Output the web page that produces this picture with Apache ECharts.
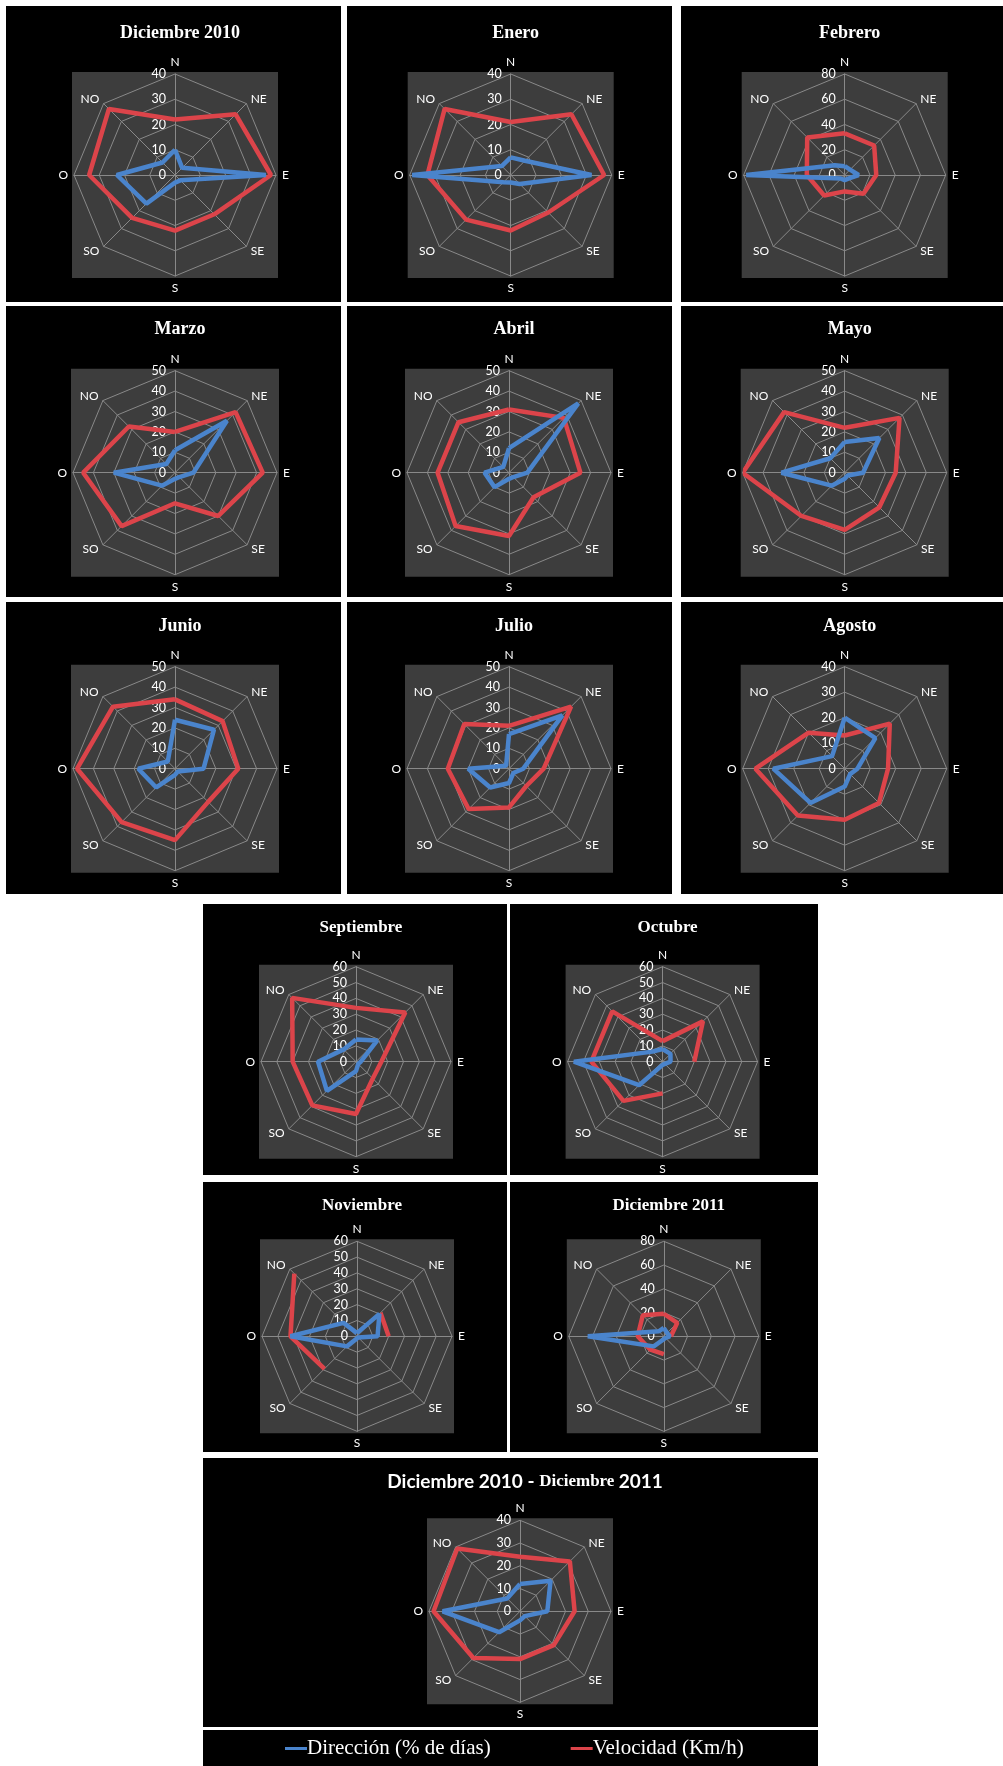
<!DOCTYPE html>
<html><head><meta charset="utf-8">
<script src="https://cdn.jsdelivr.net/npm/echarts@6/dist/echarts.min.js"></script>
<style>
html,body{margin:0;padding:0;background:#fff;width:1003px;height:1766px;overflow:hidden;}
.p{position:absolute;background:#000;}
</style></head><body>
<script>
// ---------- DATA ----------
const directions = ['N','NE','E','SE','S','SO','O','NO'];
const directionBearings = [0, 45, 90, 135, 180, 225, 270, 315]; // compass bearing of each direction (degrees)
const panelTitles = ['Diciembre 2010','Enero','Febrero','Marzo','Abril','Mayo','Junio','Julio','Agosto',
  'Septiembre','Octubre','Noviembre','Diciembre 2011','Diciembre 2010 - Diciembre 2011'];
const seriesNames = ['Dirección (% de días)','Velocidad (Km/h)'];
const axisMaxima = [40,40,80,50,50,50,50,50,40,60,60,60,80,40];
const axisSteps  = [10,10,20,10,10,10,10,10,10,10,10,10,20,10];

const dirDic2010 = [10, 4, 36, 3, 3, 16, 23, 7];
const velDic2010 = [22, 34, 38, 22, 22, 24, 34, 37];
const dirEne = [7, 8, 32, 5, 3, 4, 39, 5];
const velEne = [21, 34, 37, 21, 22, 25, 33, 37];
const dirFeb = [7, 6, 11, 4, 4, 4, 78, 11];
const velFeb = [33, 33, 25, 21, 13, 23, 30, 42];
const dirMar = [11, 36, 9, 3, 3, 9, 30, 6];
const velMar = [20, 42, 43, 30, 15, 37, 45, 32];
const dirAbr = [12, 48, 9, 3, 3, 10, 12, 4];
const velAbr = [31, 38, 35, 17, 31, 37, 35, 35];
const dirMay = [15, 24, 9, 2, 3, 9, 31, 10];
const velMay = [22, 38, 25, 24, 28, 30, 50, 42];
const dirJun = [24, 27, 14, 2, 3, 13, 18, 5];
const velJun = [34, 33, 31, 23, 35, 37, 48, 43];
const dirJul = [17, 37, 7, 3, 7, 13, 20, 2];
const velJul = [21, 43, 17, 12, 19, 28, 30, 31];
const dirAgo = [20, 17, 5, 3, 7, 19, 28, 7];
const velAgo = [13, 25, 17, 19, 20, 26, 35, 20];
const dirSep = [14, 19, 3, 2, 6, 26, 24, 11];
const velSep = [34, 44, 16, 15, 33, 39, 40, 57];
const dirOct = [8, 7, 5, 2, 2, 21, 56, 9];
const velOct = [13, 36, 20, null, 20, 35, 45, 45];
const dirNov = [2, 20, 13, 1, 1, 9, 42, 12];
const velNov = [null, 21, 20, null, null, 29, 42, 56];
const dirDic2011 = [7, 4, 5, 2, 3, 12, 64, 6];
const velDic2011 = [19, 16, 6, null, 15, 16, 22, 25];
const dirTotal = [12, 19, 12, 3, 4, 13, 34, 8];
const velTotal = [24, 31, 24, 21, 21, 29, 38, 39];

const dirSeries = [dirDic2010, dirEne, dirFeb, dirMar, dirAbr, dirMay, dirJun, dirJul, dirAgo, dirSep, dirOct, dirNov, dirDic2011, dirTotal];
const velSeries = [velDic2010, velEne, velFeb, velMar, velAbr, velMay, velJun, velJul, velAgo, velSep, velOct, velNov, velDic2011, velTotal];

// ---------- LAYOUT ----------
const layout = [
  {box:[6,6,341,302],    c:[175,175],    r:101, ty:28.5},
  {box:[347,6,672,302],  c:[510.7,175],  r:101, ty:28.5},
  {box:[681,6,1003,302], c:[844.7,175],  r:101, ty:28.5},
  {box:[6,306,341,597],  c:[175,472.7],  r:102, ty:324.5},
  {box:[347,306,672,597],c:[509,472.7],  r:102, ty:324.5},
  {box:[681,306,1003,597],c:[844.7,472.7],r:102, ty:324.5},
  {box:[6,602,341,894],  c:[175,768.7],  r:102, ty:621},
  {box:[347,602,672,894],c:[509,768.7],  r:102, ty:621},
  {box:[681,602,1003,894],c:[844.7,768.7],r:102, ty:621},
  {box:[203,904,507,1175],c:[356,1061.7], r:95, ty:923},
  {box:[510,904,818,1175],c:[662.6,1061.7],r:95, ty:923},
  {box:[203,1182,507,1452],c:[357,1336.3],r:95, ty:1200.7},
  {box:[510,1182,818,1452],c:[663.8,1336.3],r:95, ty:1200.7},
  {box:[203,1458,818,1727],c:[520,1611.3], r:91, ty:1477}
];

const RED = '#dc444a', BLUE = '#4a84cc', GRID = '#898989', PLOT = '#3d3d3d';
const ccw = [0,7,6,5,4,3,2,1];

// closed ring of [value, bearing] pairs; nulls leave gaps
function loop(vals){
  const pts = vals.map((v,i)=>[v==null?'-':v, directionBearings[i]]);
  pts.push([vals[0]==null?'-':vals[0], 360]);
  return pts;
}

layout.forEach((L, k) => {
  const [x0,y0,x1,y1] = L.box;
  const w = x1-x0, h = y1-y0;
  const div = document.createElement('div');
  div.className = 'p';
  div.style.cssText = `left:${x0}px;top:${y0}px;width:${w}px;height:${h}px;`;
  document.body.appendChild(div);
  const chart = echarts.init(div, null, {renderer:'canvas'});
  const cx = L.c[0]-x0, cy = L.c[1]-y0, R = L.r, half = R + 2;
  const max = axisMaxima[k], step = axisSteps[k];
  const titleText = k === 13
    ? '{a|Diciembre 2010 - }{b|Diciembre }{a|2011}'
    : panelTitles[k];
  chart.setOption({
    animation:false,
    backgroundColor:'#000',
    title:{
      text:titleText, left:cx, top:L.ty-y0, textAlign:'center', textVerticalAlign:'middle',
      textStyle:{color:'#fff', fontFamily:'Liberation Serif', fontWeight:'bold', fontSize: k>=9 ? 17 : 18,
        rich:{a:{color:'#fff',fontFamily:'Lato',fontWeight:'bold',fontSize:19},
              b:{color:'#fff',fontFamily:'Liberation Serif',fontWeight:'bold',fontSize:17}}}
    },
    graphic:[{type:'rect', z:-10, silent:true,
      shape:{x:cx-half, y:cy-half, width:2*half, height:2*half}, style:{fill:PLOT}}],
    radar:{
      center:[cx,cy], radius:R, startAngle:90, shape:'polygon', splitNumber:max/step,
      indicator: ccw.map(i => i===0
        ? {name:directions[i], min:0, max:max, axisLabel:{show:true, color:'#fff', fontSize:12.5, fontFamily:'Lato', margin:9}}
        : {name:directions[i], min:0, max:max}),
      axisName:{color:'#fff', fontFamily:'Lato', fontSize:12},
      nameGap:6,
      splitLine:{lineStyle:{color:GRID, width:1}},
      splitArea:{show:false},
      axisLine:{lineStyle:{color:GRID, width:1}},
      axisTick:{show:false},
      axisLabel:{show:false}
    },
    polar:{center:[cx,cy], radius:R},
    angleAxis:{type:'value', min:0, max:360, startAngle:90, clockwise:true, show:false},
    radiusAxis:{min:0, max:max, show:false},
    series:[
      {type:'line', coordinateSystem:'polar', name:seriesNames[1], data:loop(velSeries[k]), clip:false,
       symbol:'none', connectNulls:false, lineStyle:{color:RED, width:4.5}, z:3},
      {type:'line', coordinateSystem:'polar', name:seriesNames[0], data:loop(dirSeries[k]), clip:false,
       symbol:'none', connectNulls:false, lineStyle:{color:BLUE, width:4.5}, z:4}
    ]
  });
});

// Legend strip
(function(){
  const x0=203, y0=1730, w=615, h=36;
  const div = document.createElement('div');
  div.className='p';
  div.style.cssText = `left:${x0}px;top:${y0}px;width:${w}px;height:${h}px;`;
  document.body.appendChild(div);
  const chart = echarts.init(div);
  chart.setOption({
    animation:false,
    backgroundColor:'#000',
    grid:{show:false, left:0, right:0, top:0, bottom:0},
    xAxis:{show:false, type:'category', data:directions},
    yAxis:{show:false},
    legend:{
      left:82, top:8, padding:0, itemGap:80, itemWidth:22, itemHeight:3, icon:'rect',
      textStyle:{color:'#fff', fontFamily:'Liberation Serif', fontSize:21, padding:[0,0,0,-5]},
      data:seriesNames
    },
    series:[
      {type:'line', name:seriesNames[0], data:[], itemStyle:{color:BLUE}, lineStyle:{color:BLUE}},
      {type:'line', name:seriesNames[1], data:[], itemStyle:{color:RED}, lineStyle:{color:RED}}
    ]
  });
})();
</script>
</body></html>
